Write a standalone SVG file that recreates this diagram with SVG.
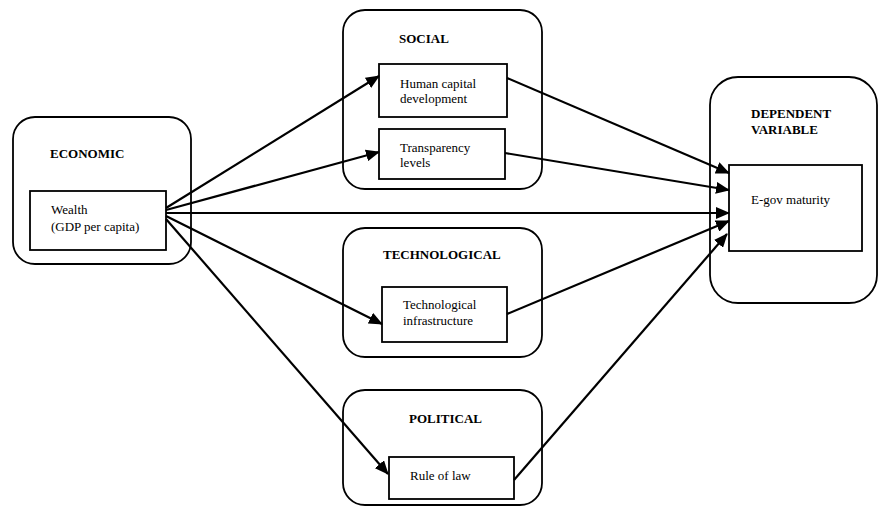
<svg xmlns="http://www.w3.org/2000/svg" width="879" height="506" viewBox="0 0 879 506">
<style>
.outer{fill:none;stroke:#000;stroke-width:1.8}
.inner{fill:#fff;stroke:#000;stroke-width:1.8}
.t{font-family:"Liberation Serif","Times New Roman",serif;font-size:13px;fill:#000}
.h{font-family:"Liberation Serif","Times New Roman",serif;font-size:13px;font-weight:bold;fill:#000}
.c{stroke:#000;stroke-width:2.2;fill:none;marker-end:url(#ah)}
</style>
<defs>
<marker id="ah" markerUnits="userSpaceOnUse" markerWidth="14" markerHeight="12" refX="13" refY="6" orient="auto">
<path d="M0,0 L14,6 L0,12 z" fill="#000"/>
</marker>
</defs>
<rect width="879" height="506" fill="#fff"/>
<g id="economic">
<rect class="outer" x="13" y="117" width="178" height="147" rx="22"/>
<text class="h" x="50" y="158">ECONOMIC</text>
</g>
<g id="wealth">
<rect class="inner" x="30" y="191" width="136" height="59"/>
<text class="t" x="51" y="214">Wealth</text>
<text class="t" x="51" y="231">(GDP per capita)</text>
</g>
<g id="social">
<rect class="outer" x="343" y="10" width="199" height="179" rx="22"/>
<text class="h" x="399" y="43">SOCIAL</text>
</g>
<g id="human-capital">
<rect class="inner" x="379" y="64" width="128" height="53"/>
<text class="t" x="400" y="88">Human capital</text>
<text class="t" x="400" y="103">development</text>
</g>
<g id="transparency">
<rect class="inner" x="379" y="129" width="126" height="50"/>
<text class="t" x="400" y="152">Transparency</text>
<text class="t" x="400" y="167">levels</text>
</g>
<g id="technological">
<rect class="outer" x="343" y="228" width="199" height="129" rx="22"/>
<text class="h" x="383" y="259">TECHNOLOGICAL</text>
</g>
<g id="tech-infra">
<rect class="inner" x="382" y="287" width="125" height="55"/>
<text class="t" x="403" y="309">Technological</text>
<text class="t" x="403" y="325">infrastructure</text>
</g>
<g id="political">
<rect class="outer" x="343" y="390" width="199" height="115" rx="22"/>
<text class="h" x="409" y="423">POLITICAL</text>
</g>
<g id="rule-of-law">
<rect class="inner" x="389" y="457" width="125" height="42"/>
<text class="t" x="410" y="480">Rule of law</text>
</g>
<g id="dependent">
<rect class="outer" x="710" y="77" width="167" height="226" rx="28"/>
<text class="h" x="751" y="118">DEPENDENT</text>
<text class="h" x="751" y="134">VARIABLE</text>
</g>
<g id="egov">
<rect class="inner" x="729" y="165" width="133" height="86"/>
<text class="t" x="751" y="204">E-gov maturity</text>
</g>
<g id="connectors">
<line class="c" x1="166" y1="208" x2="379" y2="76"/>
<line class="c" x1="166" y1="210" x2="379" y2="152"/>
<line class="c" x1="166" y1="213" x2="729" y2="213"/>
<line class="c" x1="166" y1="216" x2="382" y2="324"/>
<line class="c" x1="166" y1="219" x2="388" y2="474"/>
<line class="c" x1="507" y1="78" x2="729" y2="173"/>
<line class="c" x1="505" y1="153" x2="729" y2="190"/>
<line class="c" x1="507" y1="314" x2="729" y2="221"/>
<line class="c" x1="514" y1="480" x2="727" y2="234"/>
</g>
</svg>
